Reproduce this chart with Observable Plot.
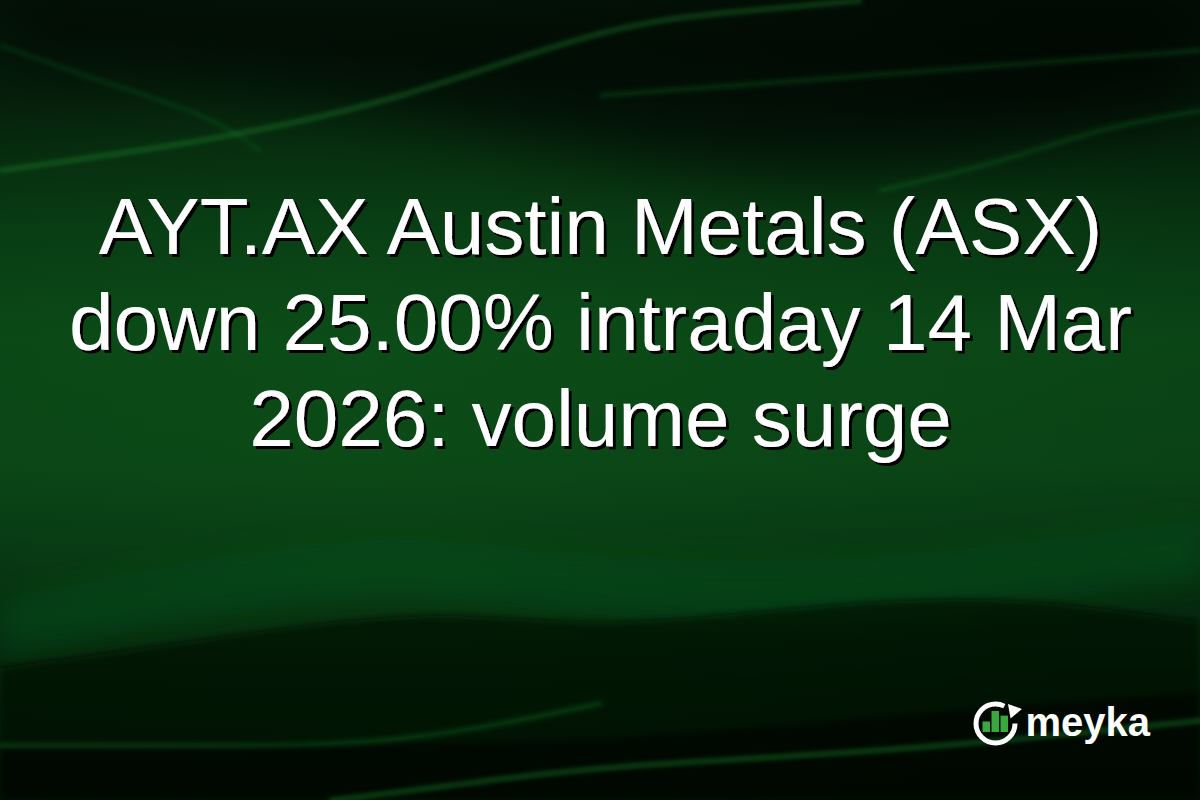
<!DOCTYPE html>
<html>
<head>
<meta charset="utf-8">
<script src="https://cdn.jsdelivr.net/npm/d3@7"></script>
<script src="https://cdn.jsdelivr.net/npm/@observablehq/plot@0.6"></script>
<style>
  html, body { margin: 0; padding: 0; background: #021208; overflow: hidden; }
  #chart svg { display: block; }
</style>
</head>
<body>
<div id="chart"></div>
<script>
// ---- data ----
const titleLines = [
  "AYT.AX Austin Metals (ASX)",
  "down 25.00% intraday 14 Mar",
  "2026: volume surge"
];
const brandName = "meyka";
// logo bar heights (relative, 0..1)
const logoBars = [0.5, 1.0, 0.78];

// decorative wave bands (x, y in page pixels)
const waveDarkTopX = [0, 200, 400, 600, 800, 1000, 1200];
const waveDarkTopY = [60, 80, 110, 150, 170, 150, 100];
const waveDarkBottomX = [0, 200, 420, 600, 800, 1000, 1200];
const waveDarkBottomY = [668, 640, 616, 622, 608, 600, 622];
const waveDeepBottomX = [0, 300, 600, 900, 1200];
const waveDeepBottomY = [748, 745, 738, 715, 692];
const waveLightX = [0, 200, 400, 600, 800, 1000, 1200];
const waveLightY = [600, 560, 540, 555, 560, 545, 520];
const streakAX = [0, 200, 400, 600, 750, 860];
const streakAY = [170, 140, 95, 33, 10, 0];
const streakBX = [600, 800, 1000, 1200];
const streakBY = [95, 80, 65, 50];
const streakCX = [0, 100, 200, 260];
const streakCY = [45, 80, 115, 150];
const streakDX = [0, 200, 400, 600];
const streakDY = [745, 745, 738, 703];
const streakEX = [330, 450, 600, 800, 1000, 1200];
const streakEY = [800, 785, 768, 755, 740, 720];
const streakFX = [880, 1000, 1100, 1200];
const streakFY = [190, 160, 130, 110];

const zip = (xs, ys) => xs.map((x, i) => ({x, y: ys[i]}));

const W = 1200, H = 800;
const cx = 600;
const baseline0 = 253, lineGap = 96;

const textFont = "'Liberation Sans', Arial, Helvetica, sans-serif";

// each entry: [tag, mark]; tag is used to attach SVG filters afterwards
const tagged = [
  ["bg", Plot.rect([0], {x1: 0, x2: W, y1: 0, y2: H, fill: "url(#bgGrad)"})],
  ["bg", Plot.rect([0], {x1: 0, x2: W, y1: 0, y2: H, fill: "url(#bgGlow)"})],
  ["blurBig", Plot.areaY(zip(waveDarkTopX, waveDarkTopY), {x: "x", y1: 0, y2: "y", curve: "natural", fill: "#010a04", fillOpacity: 0.55})],
  ["blurSoft", Plot.areaY(zip(waveLightX, waveLightY), {x: "x", y1: "y", y2: d => d.y + 60, curve: "natural", fill: "#0d5a1a", fillOpacity: 0.35})],
  ["blurEdge", Plot.areaY(zip(waveDarkBottomX, waveDarkBottomY), {x: "x", y1: "y", y2: H, curve: "natural", fill: "#010a04", fillOpacity: 0.7})],
  ["blurEdge", Plot.areaY(zip(waveDeepBottomX, waveDeepBottomY), {x: "x", y1: "y", y2: H, curve: "natural", fill: "#000802", fillOpacity: 0.55})],
  ["blurLine", Plot.line(zip(streakAX, streakAY), {x: "x", y: "y", curve: "natural", stroke: "#1f9a30", strokeWidth: 4, strokeOpacity: 0.45})],
  ["blurLine", Plot.line(zip(streakBX, streakBY), {x: "x", y: "y", curve: "natural", stroke: "#1f9a30", strokeWidth: 4, strokeOpacity: 0.28})],
  ["blurLine", Plot.line(zip(streakCX, streakCY), {x: "x", y: "y", curve: "natural", stroke: "#1f9a30", strokeWidth: 3, strokeOpacity: 0.25})],
  ["blurLine", Plot.line(zip(streakDX, streakDY), {x: "x", y: "y", curve: "natural", stroke: "#1f9a30", strokeWidth: 4, strokeOpacity: 0.35})],
  ["blurLine", Plot.line(zip(streakEX, streakEY), {x: "x", y: "y", curve: "natural", stroke: "#25ab36", strokeWidth: 4, strokeOpacity: 0.45})],
  ["blurLine", Plot.line(zip(streakFX, streakFY), {x: "x", y: "y", curve: "natural", stroke: "#1f9a30", strokeWidth: 4, strokeOpacity: 0.28})],
  ["textShadow", Plot.text(titleLines, {
    x: cx, y: (d, i) => baseline0 + i * lineGap, text: d => d,
    textAnchor: "middle", lineAnchor: "bottom",
    fill: "#ffffff", fontSize: 80, fontFamily: textFont
  })],
  ["ring", Plot.dot([0], {x: 995, y: 723, r: 19.5, stroke: "#ffffff", strokeWidth: 5, fill: "none"})],
  ["arrow", Plot.dot([0], {x: 1013, y: 710, r: 5.5, symbol: "triangle", fill: "#ffffff"})],
  ["bars", Plot.rect(logoBars, {
    x1: (d, i) => 982.5 + i * 9, x2: (d, i) => 990 + i * 9,
    y1: d => 732 - d * 21, y2: 732,
    fill: "#3aa83e"
  })],
  ["brand", Plot.text([brandName], {
    x: 1025, y: 735, text: d => d, textAnchor: "start", lineAnchor: "bottom",
    fill: "#ffffff", fontSize: 40, fontWeight: "bold", fontFamily: textFont
  })]
];

const plot = Plot.plot({
  width: W, height: H,
  margin: 0,
  x: {domain: [0, W], range: [0, W], axis: null},
  y: {domain: [0, H], range: [0, H], axis: null},
  style: {background: "transparent", overflow: "visible"},
  marks: tagged.map(t => t[1])
});

// gradients and filters
const svg = d3.select(plot);
const defs = svg.insert("defs", ":first-child");
const lg = defs.append("linearGradient").attr("id", "bgGrad").attr("x1", 0).attr("y1", 0).attr("x2", 0).attr("y2", 1);
[[0, "#020e05"], [0.12, "#031608"], [0.28, "#073511"], [0.42, "#0a4516"], [0.58, "#0a4215"], [0.72, "#063010"], [0.86, "#031809"], [1, "#010c04"]]
  .forEach(([o, c]) => lg.append("stop").attr("offset", o).attr("stop-color", c));
const rg = defs.append("radialGradient").attr("id", "bgGlow").attr("cx", 0.3).attr("cy", 0.45).attr("r", 0.7);
rg.append("stop").attr("offset", 0).attr("stop-color", "#0f5a1c").attr("stop-opacity", 0.35);
rg.append("stop").attr("offset", 1).attr("stop-color", "#0f5a1c").attr("stop-opacity", 0);
function blur(id, sd) {
  defs.append("filter").attr("id", id)
    .attr("filterUnits", "userSpaceOnUse").attr("x", -100).attr("y", -100).attr("width", W + 200).attr("height", H + 200)
    .append("feGaussianBlur").attr("stdDeviation", sd);
}
blur("blurBig", 30);
blur("blurSoft", 14);
blur("blurEdge", 3);
blur("blurLine", 2.5);
defs.append("filter").attr("id", "textShadow")
  .attr("filterUnits", "userSpaceOnUse").attr("x", 0).attr("y", 0).attr("width", W).attr("height", H)
  .append("feDropShadow").attr("dx", 3).attr("dy", 3).attr("stdDeviation", 0.6)
  .attr("flood-color", "#000").attr("flood-opacity", 1);

const groups = Array.from(plot.children).filter(n => n.tagName.toLowerCase() === "g");
groups.forEach((g, i) => {
  const tag = tagged[i] && tagged[i][0];
  if (["blurBig", "blurSoft", "blurEdge", "blurLine", "textShadow"].includes(tag)) g.setAttribute("filter", `url(#${tag})`);
  if (tag === "ring") {
    const circ = 2 * Math.PI * 19.5;
    d3.select(g).selectAll("circle").attr("stroke-dasharray", `${circ * 0.82} ${circ * 0.18}`);
  }
  if (tag === "arrow") {
    d3.select(g).selectAll("path").attr("transform", function() {
      return (this.getAttribute("transform") || "") + " rotate(200)";
    });
  }
});

document.getElementById("chart").appendChild(plot);
</script>
</body>
</html>
